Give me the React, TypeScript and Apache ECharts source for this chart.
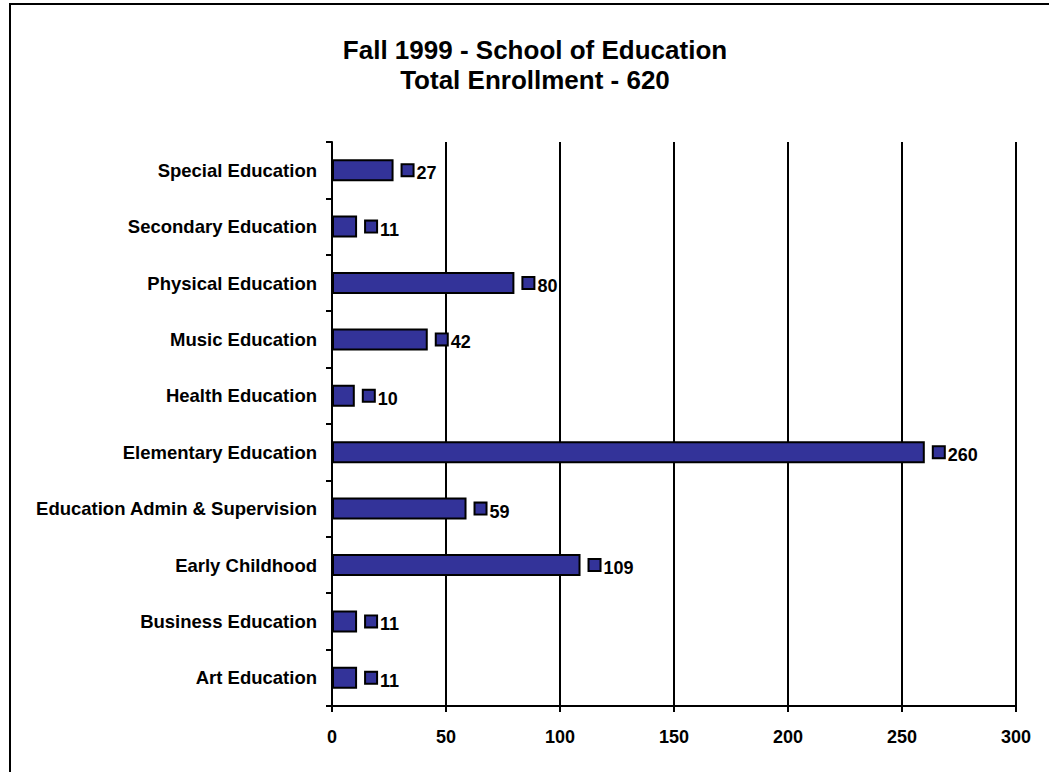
import React, { useEffect, useRef } from "react";
import * as echarts from "echarts";

const categories = [
  "Art Education",
  "Business Education",
  "Early Childhood",
  "Education Admin & Supervision",
  "Elementary Education",
  "Health Education",
  "Music Education",
  "Physical Education",
  "Secondary Education",
  "Special Education",
];
const enrollment = [11, 11, 109, 59, 260, 10, 42, 80, 11, 27];
const titleLines = ["Fall 1999 - School of Education", "Total Enrollment - 620"];

const FONT = "'Liberation Sans', Arial, sans-serif";

export default function App() {
  const ref = useRef<HTMLDivElement>(null);
  useEffect(() => {
    if (!ref.current) return;
    const chart = echarts.init(ref.current, null, { renderer: "svg" });
    chart.setOption({
      animation: false,
      backgroundColor: "#ffffff",
      title: {
        text: titleLines.join("\n"),
        left: 535,
        top: 35,
        padding: 0,
        textAlign: "center",
        textStyle: {
          fontFamily: FONT,
          fontWeight: "bold",
          fontSize: 26,
          lineHeight: 30,
          color: "#000",
        },
      },
      graphic: [
        {
          type: "rect",
          shape: { x: 10, y: 4, width: 1100, height: 900 },
          style: { fill: "none", stroke: "#000", lineWidth: 2 },
          silent: true,
        },
      ],
      grid: { left: 332, right: 33, top: 142, bottom: 66, containLabel: false },
      xAxis: {
        type: "value",
        min: 0,
        max: 300,
        interval: 50,
        axisLine: { show: true, lineStyle: { color: "#000", width: 2 } },
        axisTick: { show: true, length: 6, lineStyle: { color: "#000", width: 2 } },
        splitLine: { show: true, lineStyle: { color: "#000", width: 2 } },
        axisLabel: {
          margin: 22,
          color: "#000",
          fontFamily: FONT,
          fontWeight: "bold",
          fontSize: 18,
        },
      },
      yAxis: {
        type: "category",
        data: categories,
        axisLine: { show: true, lineStyle: { color: "#000", width: 2 } },
        axisTick: { show: true, length: 6, lineStyle: { color: "#000", width: 2 } },
        axisLabel: {
          margin: 15,
          color: "#000",
          fontFamily: FONT,
          fontWeight: "bold",
          fontSize: 18.5,
          padding: [6, 0, 0, 0],
        },
      },
      series: [
        {
          type: "bar",
          data: enrollment,
          barWidth: 22,
          itemStyle: { color: "#333399", borderColor: "#000", borderWidth: 2 },
          label: {
            show: true,
            position: "right",
            distance: 9,
            formatter: (p: any) => `{box|}{val|${p.value}}`,
            rich: {
              box: {
                width: 10,
                height: 10,
                backgroundColor: "#333399",
                borderColor: "#000",
                borderWidth: 2,
                verticalAlign: "middle",
              },
              val: {
                color: "#000",
                fontFamily: FONT,
                fontWeight: "bold",
                fontSize: 18,
                padding: [6, 0, 0, 4],
                verticalAlign: "middle",
              },
            },
          },
        },
      ],
    });
    return () => chart.dispose();
  }, []);
  return (
    <div
      ref={ref}
      style={{ position: "absolute", left: 0, top: 0, width: 1049, height: 772 }}
    />
  );
}
